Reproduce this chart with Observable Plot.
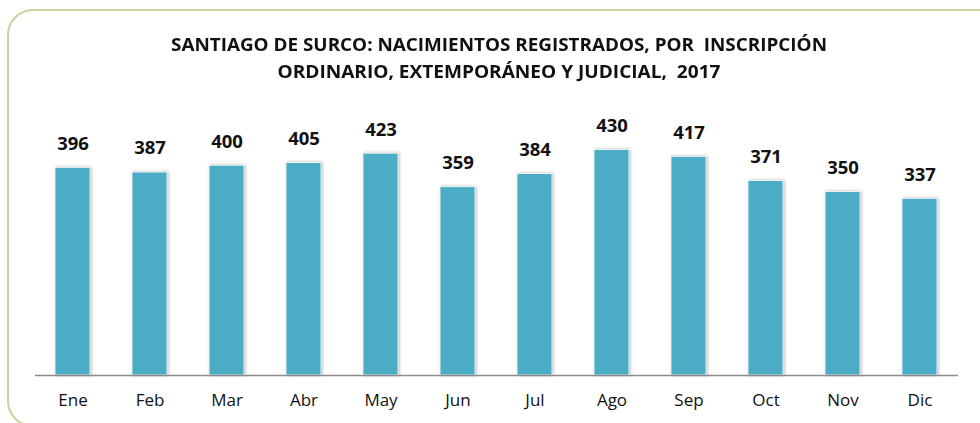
<!DOCTYPE html>
<html>
<head>
<meta charset="utf-8">
<script src="https://cdn.jsdelivr.net/npm/d3@7"></script>
<script src="https://cdn.jsdelivr.net/npm/@observablehq/plot@0.6"></script>
<style>
  html, body { margin: 0; padding: 0; background: #fff; }
  #wrap { position: relative; width: 980px; height: 423px; overflow: hidden; background: #fff; }
  #frame { position: absolute; left: 7px; top: 9px; width: 1000px; height: 418px;
           border: 2px solid #c3d69b; border-radius: 26px; box-sizing: border-box; }
  #title { position: absolute; left: 0; top: 0; width: 998px; text-align: center;
           font-family: "Open Sans", sans-serif; font-weight: 700; color: #111; }
  .tl { position: absolute; left: 0; width: 998px; text-align: center; white-space: pre; font-size: 17px; }
  #chart { position: absolute; left: 0; top: 95px; }
  #chart .bars rect { filter: drop-shadow(1px 0px 1.5px rgba(0,0,0,0.3)); }
</style>
</head>
<body>
<div id="wrap">
  <div id="frame"></div>
  <div id="title">
    <div class="tl" id="t1" style="top:33px">SANTIAGO DE SURCO: NACIMIENTOS REGISTRADOS, POR  INSCRIPCIÓN</div>
    <div class="tl" id="t2" style="top:60px">ORDINARIO, EXTEMPORÁNEO Y JUDICIAL,  2017</div>
  </div>
  <div id="chart"></div>
</div>
<script>
const months = ["Ene","Feb","Mar","Abr","May","Jun","Jul","Ago","Sep","Oct","Nov","Dic"];
const births = [396, 387, 400, 405, 423, 359, 384, 430, 417, 371, 350, 337];

// fit title lines to measured reference widths
const fit = (id, w) => {
  const el = document.getElementById(id);
  const r = document.createRange(); r.selectNodeContents(el);
  const cur = r.getBoundingClientRect().width;
  el.style.transform = `scaleX(${w / cur})`;
  el.style.transformOrigin = "499px 50%";
};

const data = months.map((m, i) => ({month: m, value: births[i]}));

const chart = Plot.plot({
  width: 980,
  height: 328,
  marginLeft: 35,
  marginRight: 22,
  marginTop: 44,
  marginBottom: 48,
  style: {fontFamily: "Open Sans, sans-serif", background: "transparent", overflow: "visible"},
  x: {domain: months, paddingInner: 0.54, paddingOuter: 0.25, label: null},
  y: {domain: [0, 450], axis: null},
  marks: [
    Plot.barY(data, {x: "month", y: "value", fill: "#4bacc6", stroke: "#fff", strokeWidth: 0.8, className: "bars"}),
    Plot.ruleY([0], {stroke: "#8c8c8c", strokeWidth: 1.5}),
    Plot.text(data, {x: "month", y: "value", text: d => String(d.value), dy: -24,
                     fontSize: 18.5, fontWeight: 700, fill: "#111"}),
    Plot.axisX({tickSize: 0, tickPadding: 18, fontSize: 17, fill: "#111", label: null})
  ]
});
document.getElementById("chart").appendChild(chart);
fit("t1", 656);
fit("t2", 443);
</script>
</body>
</html>
